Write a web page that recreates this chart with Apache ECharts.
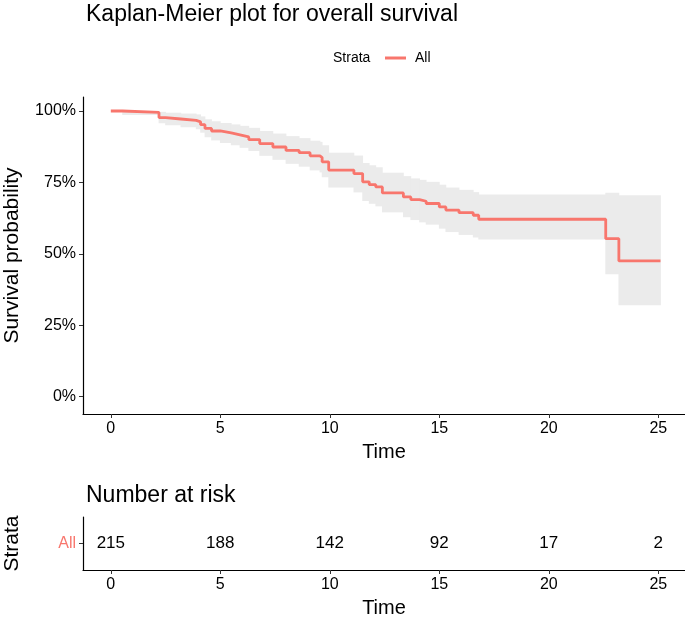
<!DOCTYPE html>
<html>
<head>
<meta charset="utf-8">
<script src="https://cdn.jsdelivr.net/npm/echarts@6/dist/echarts.min.js"></script>
<style>html,body{margin:0;padding:0;background:#fff;}#c{width:685px;height:619px;}</style>
</head>
<body>
<div id="c"></div>
<script>
// Step times and survival estimates (%), with confidence bounds
const times = [0, 0.54, 2.2, 2.5, 3.2, 3.9, 4.1, 4.3, 4.6, 5.0, 5.5, 5.9, 6.3, 6.8, 7.4, 8.0, 8.6, 9.1, 9.55, 9.65, 9.95, 11.1, 11.5, 11.8, 12.1, 12.4, 13.36, 13.7, 14.1, 14.4, 15.0, 15.3, 15.9, 16.55, 16.8, 22.6, 23.2, 25.1];
const survival = [100, 99.5, 97.7, 97.2, 96.7, 96.2, 95.2, 93.9, 93.0, 92.3, 91.6, 90.9, 90.0, 88.6, 87.4, 86.2, 85.4, 84.3, 83.7, 82.2, 79.3, 78.1, 75.2, 74.2, 73.4, 71.3, 69.9, 69.0, 68.4, 67.6, 66.4, 65.3, 64.4, 63.5, 62.1, 55.3, 47.5, 47.5];
const lower = [100, 98.6, 95.7, 95.0, 94.3, 93.6, 92.4, 90.8, 89.7, 88.8, 88.0, 87.1, 86.0, 84.3, 82.9, 81.5, 80.5, 79.2, 78.5, 76.8, 73.2, 71.5, 68.5, 67.5, 66.6, 64.5, 62.8, 61.8, 61.0, 60.2, 58.8, 57.6, 56.6, 55.7, 55.0, 42.8, 32.0, 32.0];
const upper = [100, 100, 99.7, 99.4, 99.1, 98.8, 98.1, 97.1, 96.4, 95.8, 95.3, 94.8, 94.1, 93.0, 92.1, 91.2, 90.5, 89.6, 89.2, 88.0, 85.4, 84.4, 81.8, 81.0, 80.3, 78.4, 77.2, 76.4, 75.9, 75.2, 74.2, 73.2, 72.4, 71.6, 70.8, 71.4, 70.5, 70.5];
const xTicks = [0, 5, 10, 15, 20, 25];
const yTicks = [0, 25, 50, 75, 100];
const riskTimes = [0, 5, 10, 15, 20, 25];
const riskCounts = [215, 188, 142, 92, 17, 2];
const strata = ['All'];

const FONT = 'Liberation Sans, Arial, sans-serif';
const RED = '#F8766D';
const TXT = '#000';

const chart = echarts.init(document.getElementById('c'), null, {renderer: 'canvas'});

const survData = times.map((t, i) => [t, survival[i]]);
// confidence band as step intervals: [start, end, lower, upper]
const bandData = times.slice(0, -1).map((t, i) => [t, times[i + 1], lower[i], upper[i]]);
const riskData = riskTimes.map((t, i) => [t, 'All', riskCounts[i]]);

const xAxisCommon = {
  type: 'value', min: -1.27, max: 26.22,
  axisLine: {show: true, onZero: false, lineStyle: {color: '#000', width: 1.2}},
  axisTick: {show: true, length: 4, lineStyle: {color: '#333'}, customValues: xTicks},
  axisLabel: {color: TXT, fontSize: 16, fontFamily: FONT, margin: 7, customValues: xTicks},
  splitLine: {show: false},
  nameLocation: 'middle', nameMoveOverlap: false,
  nameTextStyle: {color: TXT, fontSize: 20, fontFamily: FONT}
};

chart.setOption({
  animation: false,
  backgroundColor: '#fff',
  textStyle: {fontFamily: FONT},
  title: [
    {text: 'Kaplan-Meier plot for overall survival', left: 81, top: -2,
     textStyle: {fontSize: 23, fontWeight: 'normal', color: TXT, fontFamily: FONT}},
    {text: 'Number at risk', left: 81, top: 479,
     textStyle: {fontSize: 23, fontWeight: 'normal', color: TXT, fontFamily: FONT}}
  ],
  legend: {
    data: ['All'], left: 385, top: 51, padding: 0, icon: 'rect', itemWidth: 21, itemHeight: 3, itemGap: 8,
    textStyle: {fontSize: 14, color: TXT, fontFamily: FONT, padding: [0, 0, 0, 4]}
  },
  graphic: [
    {type: 'text', left: 333, top: 51, style: {text: 'Strata', fontSize: 14, fill: TXT, fontFamily: FONT}}
  ],
  grid: [
    {left: 83, right: 0, top: 97, height: 317, outerBoundsMode: 'none', containLabel: false},
    {left: 83, right: 0, top: 517, height: 53, outerBoundsMode: 'none', containLabel: false}
  ],
  xAxis: [
    Object.assign({}, xAxisCommon, {gridIndex: 0, name: 'Time', nameGap: 28}),
    Object.assign({}, xAxisCommon, {gridIndex: 1, name: 'Time', nameGap: 28})
  ],
  yAxis: [
    {
      type: 'value', gridIndex: 0, min: -6.1, max: 104.9,
      axisLine: {show: true, onZero: false, lineStyle: {color: '#000', width: 1.2}},
      axisTick: {show: true, length: 4, lineStyle: {color: '#333'}, customValues: yTicks},
      axisLabel: {color: TXT, fontSize: 16, fontFamily: FONT, margin: 7, formatter: '{value}%', customValues: yTicks},
      splitLine: {show: false},
      name: 'Survival probability', nameLocation: 'middle', nameRotate: 90, nameGap: 60, nameMoveOverlap: false,
      nameTextStyle: {color: TXT, fontSize: 21, fontFamily: FONT}
    },
    {
      type: 'category', gridIndex: 1, data: strata,
      axisLine: {show: true, onZero: false, lineStyle: {color: '#000', width: 1.2}},
      axisTick: {show: true, length: 4, alignWithLabel: true, lineStyle: {color: '#333'}},
      axisLabel: {color: RED, fontSize: 16, fontFamily: FONT, margin: 7},
      splitLine: {show: false},
      name: 'Strata', nameLocation: 'middle', nameRotate: 90, nameGap: 60, nameMoveOverlap: false,
      nameTextStyle: {color: TXT, fontSize: 21, fontFamily: FONT}
    }
  ],
  series: [
    {
      name: 'band', type: 'custom', xAxisIndex: 0, yAxisIndex: 0, z: 1, silent: true,
      data: bandData,
      renderItem: function (params, api) {
        const p0 = api.coord([api.value(0), api.value(3)]);
        const p1 = api.coord([api.value(1), api.value(2)]);
        return {
          type: 'rect',
          shape: {x: p0[0] - 0.4, y: p0[1], width: p1[0] - p0[0] + 0.8, height: p1[1] - p0[1]},
          style: {fill: '#EBEBEB', stroke: null}
        };
      }
    },
    {
      name: 'All', type: 'line', xAxisIndex: 0, yAxisIndex: 0, step: 'end', z: 3,
      data: survData, symbol: 'none', itemStyle: {color: RED},
      lineStyle: {color: RED, width: 2.8}
    },
    {
      name: 'risk', type: 'scatter', xAxisIndex: 1, yAxisIndex: 1,
      data: riskData, symbolSize: 0, itemStyle: {opacity: 1},
      label: {show: true, position: 'inside', formatter: p => String(p.value[2]),
              color: TXT, fontSize: 17, fontFamily: FONT, opacity: 1}
    }
  ]
});
</script>
</body>
</html>
